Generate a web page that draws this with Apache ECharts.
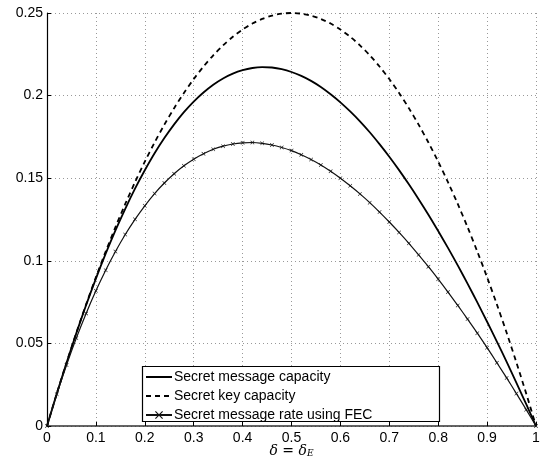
<!DOCTYPE html>
<html>
<head>
<meta charset="utf-8">
<script src="https://cdn.jsdelivr.net/npm/echarts@6/dist/echarts.min.js"></script>
<style>html,body{margin:0;padding:0;background:#fff}#c{width:550px;height:459px}</style>
</head>
<body>
<div id="c"></div>
<script>
// delta values (x)
var deltas = [0,0.02,0.04,0.06,0.08,0.10,0.12,0.14,0.16,0.18,0.20,0.22,0.24,0.26,0.28,0.30,0.32,0.34,0.36,0.38,0.40,0.42,0.44,0.46,0.48,0.50,0.52,0.54,0.56,0.58,0.60,0.62,0.64,0.66,0.68,0.70,0.72,0.74,0.76,0.78,0.80,0.82,0.84,0.86,0.88,0.90,0.92,0.94,0.96,0.98,1.00];
// Secret message capacity (solid)
var msgCapacity = [0,0.0196,0.0383,0.0562,0.0732,0.0892,0.1043,0.1184,0.1315,0.1437,0.1548,0.1651,0.1743,0.1826,0.1900,0.1964,0.2019,0.2066,0.2104,0.2133,0.2154,0.2167,0.2172,0.2170,0.2160,0.2143,0.2119,0.2089,0.2052,0.2008,0.1959,0.1904,0.1844,0.1778,0.1706,0.1630,0.1549,0.1463,0.1373,0.1279,0.1180,0.1078,0.0972,0.0862,0.0748,0.0631,0.0511,0.0388,0.0261,0.0132,0];
// Secret key capacity (dashed)
var keyCapacity = [0,0.0196,0.0384,0.0564,0.0736,0.0900,0.1056,0.1204,0.1344,0.1476,0.1600,0.1716,0.1824,0.1924,0.2016,0.2100,0.2176,0.2244,0.2304,0.2356,0.2400,0.2436,0.2464,0.2484,0.2496,0.2500,0.2496,0.2484,0.2464,0.2436,0.2400,0.2356,0.2304,0.2244,0.2176,0.2100,0.2016,0.1924,0.1824,0.1716,0.1600,0.1476,0.1344,0.1204,0.1056,0.0900,0.0736,0.0564,0.0384,0.0196,0];
// Secret message rate using FEC (line with x markers)
var fecRate = [0,0.0192,0.0369,0.0532,0.0681,0.0818,0.0943,0.1056,0.1159,0.1251,0.1333,0.1407,0.1471,0.1527,0.1575,0.1615,0.1648,0.1675,0.1694,0.1707,0.1714,0.1716,0.1711,0.1701,0.1686,0.1667,0.1642,0.1613,0.1580,0.1542,0.1500,0.1454,0.1405,0.1352,0.1295,0.1235,0.1172,0.1106,0.1036,0.0964,0.0889,0.0811,0.0730,0.0647,0.0562,0.0474,0.0383,0.0291,0.0196,0.0099,0];
var xTicks = [0,0.1,0.2,0.3,0.4,0.5,0.6,0.7,0.8,0.9,1];
var yTicks = [0,0.05,0.1,0.15,0.2,0.25];
var seriesNames = ['Secret message capacity','Secret key capacity','Secret message rate using FEC'];

function pairs(ys){ return deltas.map(function(d,i){ return [d, ys[i]]; }); }
var xMark = 'path://M0,1L1,0L5,4L9,0L10,1L6,5L10,9L9,10L5,6L1,10L0,9L4,5Z';
var font = 'Liberation Sans, Arial, Helvetica, sans-serif';

var chart = echarts.init(document.getElementById('c'), null, {renderer:'canvas'});
chart.setOption({
  animation: false,
  backgroundColor: '#fff',
  grid: {left: 47, right: 14, top: 13, bottom: 33, containLabel: false, outerBoundsMode: 'none'},
  xAxis: {
    type: 'value', min: 0, max: 1, interval: 0.1,
    axisLine: {show: true, lineStyle: {color: '#333', width: 1.5}},
    axisTick: {show: true, inside: true, length: 4, lineStyle: {color: '#000'}},
    axisLabel: {color: '#000', fontFamily: font, fontSize: 14, margin: 5,
      formatter: function(v){ return String(Math.round(v*10)/10); }},
    splitLine: {show: true, lineStyle: {color: '#999', type: [1,3], width: 1}},
    name: '{a|δ = δ}{b|E}', nameLocation: 'middle', nameGap: 25, nameMoveOverlap: false,
    nameTextStyle: {verticalAlign: 'middle', rich: {
      a: {fontFamily: 'DejaVu Serif, Liberation Serif, serif', fontStyle: 'italic', fontSize: 14, color: '#000', lineHeight: 16},
      b: {fontFamily: 'DejaVu Serif, Liberation Serif, serif', fontStyle: 'italic', fontSize: 9, color: '#000', padding: [6,0,0,0], lineHeight: 10}
    }}
  },
  yAxis: {
    type: 'value', min: 0, max: 0.25, interval: 0.05,
    axisLine: {show: true, lineStyle: {color: '#000', width: 1.2}},
    axisTick: {show: true, inside: true, length: 4, lineStyle: {color: '#000'}},
    axisLabel: {color: '#000', fontFamily: font, fontSize: 14, margin: 4,
      formatter: function(v){ return String(Math.round(v*100)/100); }},
    splitLine: {show: true, lineStyle: {color: '#999', type: [1,3], width: 1}}
  },
  legend: {
    left: 143, top: 368, orient: 'vertical', itemWidth: 26, itemHeight: 10, itemGap: 5,
    padding: [2,4,2,2], z: 10,
    textStyle: {color: '#000', fontFamily: font, fontSize: 14, padding: [0,0,0,-3]},
    data: [
      {name: seriesNames[0], itemStyle: {opacity: 0}},
      {name: seriesNames[1], itemStyle: {opacity: 0}},
      {name: seriesNames[2]}
    ]
  },
  graphic: [{
    type: 'rect', z: 5, shape: {x: 142.5, y: 366.5, width: 297, height: 55},
    style: {fill: '#fff', stroke: '#000', lineWidth: 1.2}
  }],
  series: [
    {name: seriesNames[0], type: 'line', data: pairs(msgCapacity), smooth: 0.3, symbol: 'none',
      lineStyle: {color: '#000', width: 1.8}, itemStyle: {color: '#000'}},
    {name: seriesNames[1], type: 'line', data: pairs(keyCapacity), smooth: 0.3, symbol: 'none',
      lineStyle: {color: '#000', width: 1.8, type: [5,4]}, itemStyle: {color: '#000'}},
    {name: seriesNames[2], type: 'line', data: pairs(fecRate), smooth: 0.3, symbol: xMark, symbolSize: 4,
      showSymbol: true, lineStyle: {color: '#111', width: 1.2}, itemStyle: {color: '#111'}}
  ]
});
</script>
</body>
</html>
